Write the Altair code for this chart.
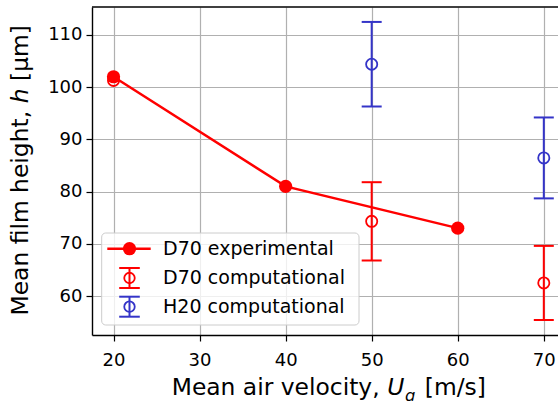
import altair as alt
import pandas as pd

# ---- data ----
exp_x = [20, 40, 60]
exp_y = [102.0, 81.0, 73.0]

d70_x = [20, 50, 70]
d70_y = [101.3, 74.3, 62.5]
d70_err = [0.0, 7.5, 7.1]

h20_x = [50, 70]
h20_y = [104.4, 86.45]
h20_err = [8.1, 7.75]

x_ticks = [20, 30, 40, 50, 60, 70]
y_ticks = [60, 70, 80, 90, 100, 110]

legend_labels = ["D70 experimental", "D70 computational", "H20 computational"]

RED = "#ff0000"
BLUE = "#3434c8"
FONT = "DejaVu Sans"
W, H = 466, 328

exp = pd.DataFrame({"x": exp_x, "y": exp_y})
comp = pd.DataFrame({
    "x": d70_x + h20_x,
    "y": d70_y + h20_y,
    "err": d70_err + h20_err,
    "s": ["D70"] * len(d70_x) + ["H20"] * len(h20_x),
})
comp["lo"] = comp["y"] - comp["err"]
comp["hi"] = comp["y"] + comp["err"]
bars = comp[comp["err"] > 0]
one = pd.DataFrame({"k": [0]})

xs = alt.Scale(domain=[17.5, 71.65], nice=False, zero=False)
ys = alt.Scale(domain=[52.53, 115.36], nice=False, zero=False)
col = alt.Color("s:N", scale=alt.Scale(domain=["D70", "H20"], range=[RED, BLUE]), legend=None)

xaxis = alt.Axis(values=x_ticks, title=None, grid=True, labelFontSize=18, labelFont=FONT,
                 labelColor="black", tickColor="black", tickSize=6, tickWidth=1.2,
                 domainColor="black", domainWidth=1.4, gridColor="#b0b0b0", gridWidth=1.2,
                 labelPadding=10, labelFlush=False, format="d")
yaxis = alt.Axis(values=y_ticks, title=None, grid=True, labelFontSize=18, labelFont=FONT,
                 labelColor="black", tickColor="black", tickSize=6, tickWidth=1.2,
                 domainColor="black", domainWidth=1.4, gridColor="#b0b0b0", gridWidth=1.2,
                 labelPadding=4, labelFlush=False, format="d")

X = alt.X("x:Q", scale=xs, axis=xaxis)

err_rule = alt.Chart(bars).mark_rule(strokeWidth=2).encode(
    x=X, y=alt.Y("lo:Q", scale=ys, axis=yaxis), y2="hi:Q", color=col)
cap_lo = alt.Chart(bars).mark_tick(orient="horizontal", size=20, thickness=2, opacity=1).encode(
    x=X, y=alt.Y("lo:Q", scale=ys, axis=yaxis), color=col)
cap_hi = alt.Chart(bars).mark_tick(orient="horizontal", size=20, thickness=2, opacity=1).encode(
    x=X, y=alt.Y("hi:Q", scale=ys, axis=yaxis), color=col)
open_pts = alt.Chart(comp).mark_point(shape="circle", filled=False, size=125, strokeWidth=1.8,
                                      opacity=1).encode(
    x=X, y=alt.Y("y:Q", scale=ys, axis=yaxis), color=col)
exp_line = alt.Chart(exp).mark_line(color=RED, strokeWidth=2.5).encode(
    x=X, y=alt.Y("y:Q", scale=ys, axis=yaxis))
exp_pts = alt.Chart(exp).mark_circle(color=RED, size=175, opacity=1).encode(
    x=X, y=alt.Y("y:Q", scale=ys, axis=yaxis))

top_spine = alt.Chart(one).mark_rule(color="black", strokeWidth=1.4).encode(
    x=alt.value(0), x2=alt.value(W), y=alt.value(0))

# ---- legend (drawn by hand) ----
r1, r2, r3 = 241.7, 271.0, 299.7
lx = 37.5
leg = [
    alt.Chart(one).mark_rect(fill="white", fillOpacity=0.8, stroke="#cccccc", strokeWidth=1,
                             cornerRadius=4).encode(
        x=alt.value(9.7), x2=alt.value(267), y=alt.value(226), y2=alt.value(318)),
    alt.Chart(one).mark_rule(color=RED, strokeWidth=2.5).encode(
        x=alt.value(15.3), x2=alt.value(58.7), y=alt.value(r1)),
    alt.Chart(one).mark_circle(color=RED, size=175, opacity=1).encode(
        x=alt.value(lx), y=alt.value(r1)),
]
for ry, c in [(r2, RED), (r3, BLUE)]:
    leg += [
        alt.Chart(one).mark_rule(color=c, strokeWidth=2).encode(
            x=alt.value(lx), y=alt.value(ry - 10), y2=alt.value(ry + 10)),
        alt.Chart(one).mark_rule(color=c, strokeWidth=2).encode(
            x=alt.value(lx - 10.3), x2=alt.value(lx + 10.3), y=alt.value(ry - 10)),
        alt.Chart(one).mark_rule(color=c, strokeWidth=2).encode(
            x=alt.value(lx - 10.3), x2=alt.value(lx + 10.3), y=alt.value(ry + 10)),
        alt.Chart(one).mark_point(shape="circle", filled=False, size=110, strokeWidth=1.8,
                                  color=c, opacity=1).encode(x=alt.value(lx), y=alt.value(ry)),
    ]
for ry, lab in zip([r1, r2, r3], legend_labels):
    leg.append(alt.Chart(one).mark_text(align="left", baseline="middle", fontSize=19, font=FONT,
                                        color="black").encode(
        x=alt.value(71), y=alt.value(ry), text=alt.value(lab)))

# ---- axis titles with math italics ----
TS = 23.4
def txt(s, x, y, size=TS, style="normal", angle=0):
    kw = dict(align="left", baseline="alphabetic", fontSize=size, font=FONT, color="black",
              fontStyle=style)
    if angle:
        kw["angle"] = angle
    return alt.Chart(one).mark_text(**kw).encode(x=alt.value(x), y=alt.value(y), text=alt.value(s))

titles = [
    txt("Mean air velocity,", 79.7, 388),
    txt("U", 295.2, 388, style="italic"),
    txt("g", 313.0, 394, size=16.4, style="italic"),
    txt("[m/s]", 332.8, 388),
    txt("Mean film height,", -64, 308.5, angle=270),
    txt("h", -64, 96.3, style="italic", angle=270),
    txt("[μm]", -64, 74.0, angle=270),
]

chart = alt.layer(err_rule, cap_lo, cap_hi, open_pts, exp_line, exp_pts, top_spine,
                  *leg, *titles).properties(
    width=W, height=H,
    autosize=alt.AutoSizeParams(type="none"),
    padding={"left": 92, "top": 7, "right": 0, "bottom": 66},
    background="white",
).configure_view(stroke=None)

chart.save("out.html", embed_options={"renderer": "svg", "actions": False})
